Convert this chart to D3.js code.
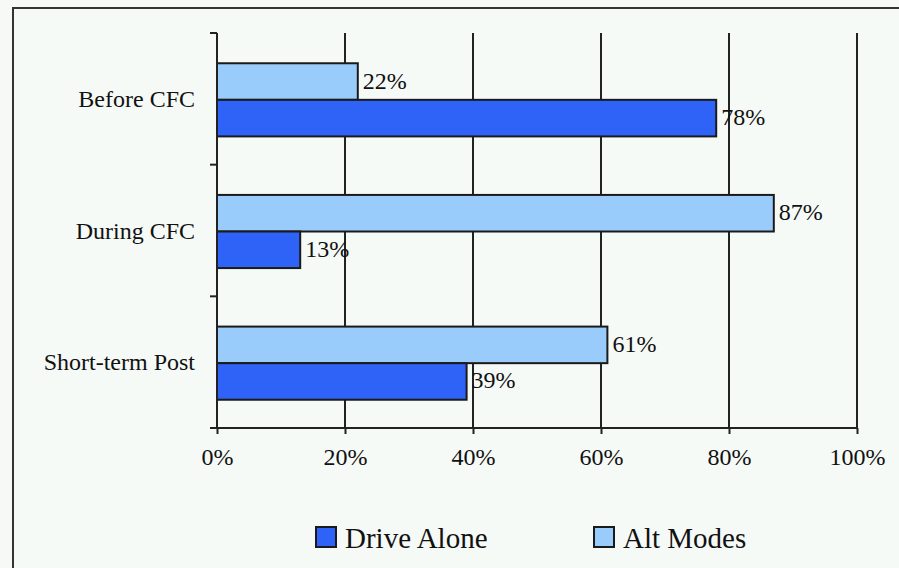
<!DOCTYPE html>
<html><head><meta charset="utf-8">
<script src="https://cdn.jsdelivr.net/npm/d3@7"></script>
<style>html,body{margin:0;padding:0;background:#f6faf7;}svg{display:block;}</style>
</head><body>
<script>
const categories = ["Before CFC", "During CFC", "Short-term Post"];
const seriesNames = ["Alt Modes", "Drive Alone"];
const altModes = [22, 87, 61];
const driveAlone = [78, 13, 39];
const xTicks = [0, 20, 40, 60, 80, 100];
const legendOrder = ["Drive Alone", "Alt Modes"];
const colors = {"Drive Alone": "#2f63f7", "Alt Modes": "#99ccfa"};

(function () {
const W = 899, H = 568;
const svg = d3.select("body").append("svg").attr("width", W).attr("height", H);
const font = "'Liberation Serif', 'Times New Roman', serif";

svg.append("rect").attr("x", 0).attr("y", 0).attr("width", W).attr("height", H).attr("fill", "#f6faf7");
svg.append("rect").attr("x", 13).attr("y", 8).attr("width", W + 20).attr("height", H + 20)
  .attr("fill", "none").attr("stroke", "#333").attr("stroke-width", 2);

const pL = 217, pR = 857, pT = 33, pB = 428;
const x = d3.scaleLinear().domain([0, 100]).range([pL, pR]);
const y0 = d3.scaleBand().domain(categories).range([pT, pB]);
const y1 = d3.scaleBand().domain(seriesNames).range([1, y0.bandwidth() + 1]).paddingOuter(0.8).paddingInner(0);

// gridlines
svg.append("g").selectAll("line").data(xTicks.filter(d => d > 0)).join("line")
  .attr("x1", d => x(d)).attr("x2", d => x(d)).attr("y1", pT).attr("y2", pB)
  .attr("stroke", "#222").attr("stroke-width", 2);

const data = [];
categories.forEach((c, i) => {
  data.push({cat: c, s: "Alt Modes", v: altModes[i]});
  data.push({cat: c, s: "Drive Alone", v: driveAlone[i]});
});

svg.append("g").selectAll("rect").data(data).join("rect")
  .attr("x", x(0)).attr("y", d => y0(d.cat) + y1(d.s))
  .attr("width", d => x(d.v) - x(0)).attr("height", y1.bandwidth())
  .attr("fill", d => colors[d.s]).attr("stroke", "#1a1a1a").attr("stroke-width", 2);

svg.append("g").selectAll("text").data(data).join("text")
  .attr("x", d => x(d.v) + 5).attr("y", d => y0(d.cat) + y1(d.s) + y1.bandwidth() / 2 + 7)
  .attr("font-family", font).attr("font-size", 24).attr("fill", "#111")
  .text(d => d.v + "%");

// y axis
const yAxis = svg.append("g");
yAxis.append("line").attr("x1", pL).attr("x2", pL).attr("y1", pT).attr("y2", pB)
  .attr("stroke", "#222").attr("stroke-width", 2);
const yTickPos = categories.map(c => y0(c)).concat([pB]);
yAxis.selectAll("line.t").data(yTickPos).join("line").attr("class", "t")
  .attr("x1", pL - 7).attr("x2", pL).attr("y1", d => d).attr("y2", d => d)
  .attr("stroke", "#222").attr("stroke-width", 2);
yAxis.selectAll("text").data(categories).join("text")
  .attr("x", 195).attr("y", d => y0(d) + y0.bandwidth() / 2 + 8)
  .attr("text-anchor", "end").attr("font-family", font).attr("font-size", 24).attr("fill", "#111")
  .text(d => d);

// x axis
const xAxis = svg.append("g").attr("transform", `translate(0,${pB})`)
  .call(d3.axisBottom(x).tickValues(xTicks).tickFormat(d => d + "%").tickSize(6).tickPadding(14));
xAxis.select(".domain").attr("stroke", "#222").attr("stroke-width", 2).attr("d", `M${pL - 7},0H${pR}`);
xAxis.selectAll(".tick line").attr("stroke", "#222").attr("stroke-width", 2);
xAxis.selectAll(".tick text").attr("font-family", font).attr("font-size", 24).attr("fill", "#111");

// legend
const legX = [316, 594];
const lg = svg.append("g").selectAll("g").data(legendOrder).join("g")
  .attr("transform", (d, i) => `translate(${legX[i]},527)`);
lg.append("rect").attr("width", 20).attr("height", 20).attr("fill", d => colors[d])
  .attr("stroke", "#1a1a1a").attr("stroke-width", 2);
lg.append("text").attr("x", 29).attr("y", 21).attr("font-family", font).attr("font-size", 29)
  .attr("fill", "#111").text(d => d);
})();
</script>
</body></html>
